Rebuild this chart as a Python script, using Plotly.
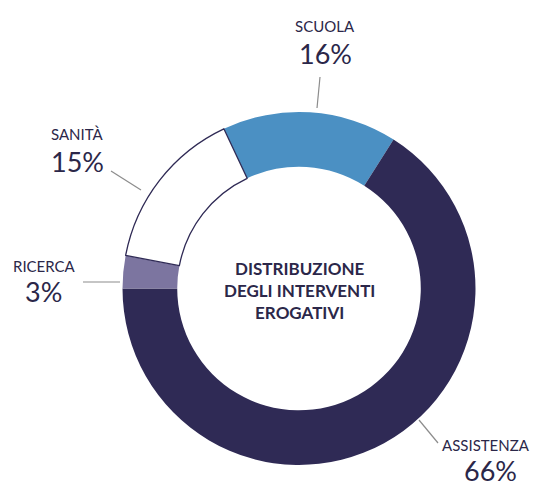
import plotly.graph_objects as go

# Distribuzione degli interventi erogativi (percentuali)
categorie = ["SCUOLA", "ASSISTENZA", "RICERCA", "SANITÀ"]
valori = [16, 66, 3, 15]
etichette_pct = ["16%", "66%", "3%", "15%"]

colori = ["#4b90c3", "#2f2a55", "#7c75a0", "#ffffff"]
bordo_larghezza = [0, 0, 0, 1.3]
bordo_colore = ["#2f2a55"] * 4

W, H = 538, 486
TESTO = "#2b2749"
LINEA = "#8c8c8c"


def px(x, y):
    """Pixel coordinates -> paper coordinates."""
    return x / W, 1 - y / H


# the Assistenza/Ricerca boundary sits at 9 o'clock
rotazione = 270 - 360 * (valori[0] + valori[1]) / sum(valori)

# ring placement (pixels)
cx, cy, R = 299, 288.5, 176.5
x0, y0 = px(cx - R, cy + R)
x1, y1 = px(cx + R, cy - R)

fig = go.Figure(
    go.Pie(
        labels=categorie,
        values=valori,
        sort=False,
        direction="clockwise",
        rotation=rotazione,
        hole=0.69,
        textinfo="none",
        hoverinfo="label+percent",
        marker=dict(colors=colori, line=dict(color=bordo_colore, width=bordo_larghezza)),
        domain=dict(x=[x0, x1], y=[y0, y1]),
        showlegend=False,
    )
)

# outside labels: (category name position, percentage position, leader line)
posizioni = {
    "SCUOLA": ((325, 26), (325, 53), ((320, 77), (317, 108))),
    "ASSISTENZA": ((486, 445), (490, 470), ((419, 420), (438, 443))),
    "RICERCA": ((44, 266), (43, 291), ((83, 282), (120, 282))),
    "SANITÀ": ((77, 134), (77, 162), ((111, 171), (141, 190))),
}

annotazioni = []
forme = []
for nome, pct in zip(categorie, etichette_pct):
    (nx, ny), (qx, qy), ((lx0, ly0), (lx1, ly1)) = posizioni[nome]
    ax, ay = px(nx, ny)
    annotazioni.append(dict(
        x=ax, y=ay, xref="paper", yref="paper", text=nome, showarrow=False,
        xanchor="center", yanchor="middle",
        font=dict(family="Lato, sans-serif", size=15, color=TESTO),
    ))
    bx, by = px(qx, qy)
    annotazioni.append(dict(
        x=bx, y=by, xref="paper", yref="paper", text=pct, showarrow=False,
        xanchor="center", yanchor="middle",
        font=dict(family="Lato, sans-serif", size=27, color=TESTO),
    ))
    sx0, sy0 = px(lx0, ly0)
    sx1, sy1 = px(lx1, ly1)
    forme.append(dict(
        type="line", xref="paper", yref="paper",
        x0=sx0, y0=sy0, x1=sx1, y1=sy1,
        line=dict(color=LINEA, width=1.2),
    ))

tx, ty = px(299, 290)
annotazioni.append(dict(
    x=tx, y=ty, xref="paper", yref="paper",
    text="<b>DISTRIBUZIONE<br>DEGLI INTERVENTI<br>EROGATIVI</b>",
    showarrow=False, xanchor="center", yanchor="middle", align="center",
    font=dict(family="Lato, sans-serif", size=17, color=TESTO),
))

fig.update_layout(
    width=W, height=H,
    margin=dict(l=0, r=0, t=0, b=0),
    paper_bgcolor="white",
    plot_bgcolor="white",
    annotations=annotazioni,
    shapes=forme,
)

fig.write_html("out.html")
